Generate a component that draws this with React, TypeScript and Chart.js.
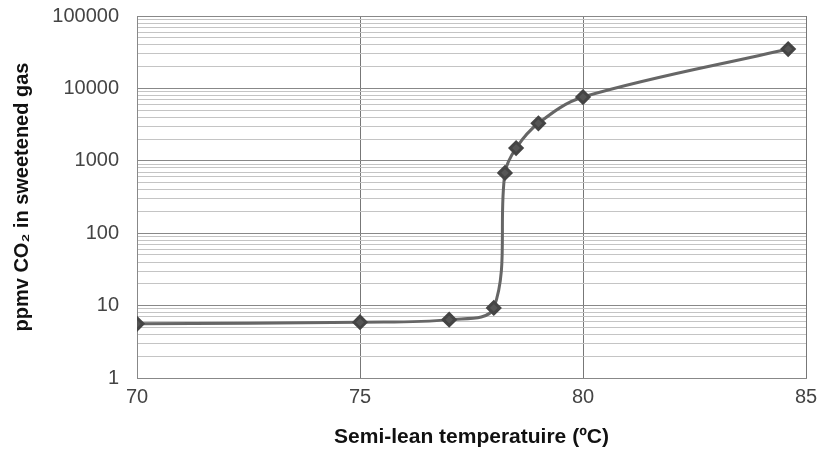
import React, { useEffect, useRef } from "react";
import { Chart, registerables } from "chart.js";

Chart.register(...registerables);

const temperatures = [70, 75, 77, 78, 78.25, 78.5, 79, 80, 84.6];
const co2Ppmv = [5.6, 5.9, 6.4, 9.3, 680, 1500, 3300, 7600, 35000];
const xTicks = [70, 75, 80, 85];
const yDecades = [1, 10, 100, 1000, 10000, 100000];

const isDecade = (v: number) => yDecades.includes(Math.round(v));

export default function App() {
  const ref = useRef<HTMLCanvasElement | null>(null);
  useEffect(() => {
    if (!ref.current) return;
    const chart = new Chart(ref.current, {
      type: "scatter",
      data: {
        datasets: [
          {
            data: temperatures.map((t, i) => ({ x: t, y: co2Ppmv[i] })),
            showLine: true,
            borderColor: "#666666",
            borderWidth: 3,
            backgroundColor: "#555555",
            pointBackgroundColor: "#555555",
            pointBorderColor: "#444444",
            pointStyle: "rectRot",
            pointRadius: 6,
            tension: 0.35,
          },
        ],
      },
      options: {
        animation: false,
        responsive: false,
        maintainAspectRatio: false,
        layout: { padding: { left: 8, right: 19, top: 16, bottom: 5 } },
        plugins: { legend: { display: false }, tooltip: { enabled: false } },
        scales: {
          x: {
            type: "linear",
            min: 70,
            max: 85,
            afterBuildTicks: (scale: any) => {
              scale.ticks = xTicks.map((v) => ({ value: v }));
            },
            afterFit: (scale: any) => {
              scale.height = 72;
            },
            ticks: {
              color: "#444444",
              font: { family: "Liberation Sans, Arial", size: 20 },
              padding: 7,
            },
            grid: { color: "#777777", lineWidth: 1, drawTicks: false },
            border: { color: "#888888" },
            title: {
              display: true,
              text: "Semi-lean temperatuire (ºC)",
              color: "#111111",
              font: { family: "Liberation Sans, Arial", size: 21, weight: "bold" },
              padding: { top: 10, bottom: 0 },
            },
          },
          y: {
            type: "logarithmic",
            min: 1,
            max: 100000,
            afterBuildTicks: (scale: any) => {
              const t: any[] = [];
              for (let d = 1; d < 100000; d *= 10) {
                for (let k = 1; k < 10; k++) t.push({ value: d * k, major: k === 1 });
              }
              t.push({ value: 100000, major: true });
              scale.ticks = t;
            },
            afterFit: (scale: any) => {
              scale.width = 129;
              scale.paddingTop = 0;
              scale.paddingBottom = 0;
            },
            ticks: {
              autoSkip: false,
              color: "#444444",
              font: { family: "Liberation Sans, Arial", size: 20 },
              padding: 18,
              callback: (v: any) => (isDecade(Number(v)) ? String(Math.round(Number(v))) : ""),
            },
            grid: {
              drawTicks: false,
              color: (ctx: any) => (ctx.tick && isDecade(ctx.tick.value) ? "#888888" : "#c4c4c4"),
              lineWidth: 1,
            },
            border: { color: "#888888" },
            title: {
              display: true,
              text: "ppmv CO₂ in sweetened gas",
              color: "#111111",
              font: { family: "Liberation Sans, Arial", size: 20, weight: "bold" },
              padding: { top: 2, bottom: 0 },
            },
          },
        },
      },
    } as any);
    return () => chart.destroy();
  }, []);
  return (
    <div style={{ position: "fixed", left: 0, top: 0, width: 825, height: 455, background: "#fff" }}>
      <canvas ref={ref} width={825} height={455} style={{ width: 825, height: 455 }} />
    </div>
  );
}
